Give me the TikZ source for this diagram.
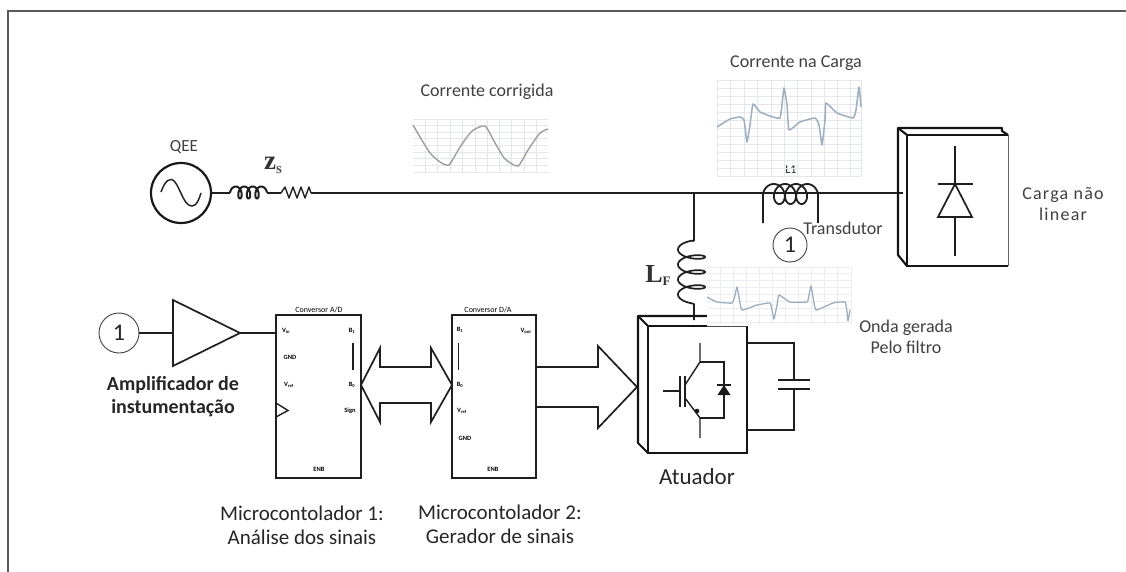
\documentclass[tikz,border=0pt]{standalone}
\usepackage{fontspec}
\setmainfont{Carlito}
\newfontfamily\serifbold{Liberation Serif}[BoldFont={Liberation Serif Bold}]
\usetikzlibrary{calc}
\definecolor{lab}{HTML}{404040}
\definecolor{gridc}{HTML}{E3E6EA}
\definecolor{wavec}{HTML}{9DAEBF}
\newcommand{\fsz}[1]{\fontsize{#1}{#1}\selectfont}
\tikzset{
  x=1pt,y=-1pt,
  wire/.style={draw=black!88,line width=1.7pt},
  thick wire/.style={draw=black!92,line width=2.1pt},
  thin wire/.style={draw=black!85,line width=1.3pt},
  mark circle/.style={circle,draw=black!75,line width=0.9pt,minimum size=#1,inner sep=0pt,font=\fsz{24},text=black!85},
  block/.style={rectangle,draw=black!88,line width=1.6pt,inner sep=0pt,fill=white},
  toplabel/.style={inner sep=0pt,text=lab,font=\fsz{18},align=center},
  caption/.style={inner sep=0pt,text=black!85,font=\fsz{21},align=center},
  boldcap/.style={inner sep=0pt,text=black!85,font=\fsz{20}\bfseries,align=center},
  tiny label/.style={inner sep=0pt,text=black,font=\fsz{6.5}\bfseries},
  title label/.style={inner sep=0pt,text=black,font=\fsz{8}},
  gridline/.style={draw=gridc,line width=0.7pt},
  wave/.style={draw=wavec,line width=1.5pt,line join=round},
}
\begin{document}
\begin{tikzpicture}
\useasboundingbox (0,0) rectangle (1126,572);
\fill[white] (0,0) rectangle (1126,572);
% frame
\coordinate (fa) at (8,572); \coordinate (fb) at (8,11); \coordinate (fc) at (1126,11);
\draw[draw=black!65,line width=1.1pt] (fa) -- (fb) -- (fc);

% source
\node[circle,draw=black!90,line width=2.2pt,minimum size=60pt,inner sep=0pt] (src) at (181,193) {};
\draw[thin wire,line width=1.5pt] (161,192) .. controls (165,181) and (170,176) .. (175,182) .. controls (181,190) and (184,206) .. (192,206) .. controls (197,206) and (199,199) .. (201,193);
\node[toplabel,font=\fsz{17}] (qee) at (184,147) {QEE};
\node[inner sep=0pt,font=\serifbold\fsz{27}\bfseries,text=black!80] (zs) at (273,165) {z\raisebox{-4pt}{\fsz{15}\textcolor{black!65}{s}}};

% main line junction coordinates
\coordinate (zin) at (230,193);
\coordinate (zout) at (267,193);
\coordinate (rin) at (281,193);
\coordinate (rout) at (311,193);
\coordinate (jn) at (694,193);
\coordinate (l1a) at (763,193);
\coordinate (l1b) at (818,193);
\coordinate (ldin) at (903,193);

\draw[wire] (src.east) -- (zin);
\draw[wire,line width=2pt] (zin) -- plot[variable=\t,domain=0:1260,samples=180] ({230+3.6+\t/1260*29.8-3.6*cos(\t)},{192.5-6*sin(\t)});
\draw[wire] (zout) -- (rin);
\draw[wire,line width=1.4pt,line join=round] (rin) -- (285,187) -- (289,198) -- (293,187) -- (297,198) -- (301,187) -- (305,198) -- (309,187) -- (rout);
\draw[wire] (rout) -- (ldin);

% L1
\node[inner sep=0pt,font=\fsz{12},text=black!85] (l1t) at (791,170) {L1};
\coordinate (l1la) at (763,223);
\coordinate (l1lb) at (818,223);
\draw[wire,line width=1.8pt,line join=round] (l1la) -- (763,194) -- plot[variable=\t,domain=0:1260,samples=200] ({771+\t/1260*39-8*cos(\t)},{194-10*sin(\t)}) -- (l1lb);
\node[mark circle=34pt] (c1a) at (790,245) {1};
\node[toplabel] (tr) at (843,228) {Transdutor};

% load
\coordinate (lda) at (898,128); \coordinate (ldb) at (1002,128); \coordinate (ldc) at (898,255);
\coordinate (lde) at (907,135); \coordinate (ldf) at (1008,135); \coordinate (ldg) at (907,266); \coordinate (ldh) at (1008,266);
\draw[thick wire,line join=round] (ldg) -- (ldc) -- (lda) -- (ldb) -- (1002,131) -- (ldf);
\draw[thick wire] (lda) -- (lde);
\draw[thick wire] (lde) -- (ldf);
\draw[thick wire] (lde) -- (ldg) -- (ldh);
\draw[draw=black!60,line width=1pt] (ldf) -- (ldh);
% diode of load
\coordinate (da) at (955,146); \coordinate (db) at (955,184); \coordinate (dc) at (955,217); \coordinate (dd) at (955,256);
\draw[wire] (da) -- (db);
\draw[wire] (938,184) -- (973,184);
\draw[wire,line join=miter] (db) -- (972,217) -- (938,217) -- cycle;
\draw[wire] (dc) -- (dd);
\node[toplabel,font=\fsz{18}\addfontfeature{LetterSpace=7}] (cnl) at (1063,204) {Carga não\\[3pt]linear};

% branch inductor
\coordinate (lfa) at (694,241);
\coordinate (lfb) at (694,320);
\draw[wire] (jn) -- (lfa);
\draw[wire,line join=round] (lfa) -- plot[variable=\t,domain=90:1350,samples=220] ({691.5+13.5*cos(\t)},{242+\t/360*15-5*sin(\t)}) -- (694,304) -- (lfb);
\node[inner sep=0pt,font=\serifbold\fsz{26}\bfseries,text=black!80] (lf) at (658,275) {L\raisebox{-3pt}{\fsz{13}F}};

% chart 1
\foreach \x in {425,437.5,450,462,475,487,499,511,524,536} \draw[gridline] (\x,119) -- (\x,172);
\foreach \y in {119,125,132,138,145,152,158,165,172} \draw[gridline] (413,\y) -- (548,\y);
\draw[wave,draw=black!38,line width=1.4pt] plot[smooth,tension=0.35] coordinates {(413,125) (420,137) (430,153) (440,162) (449,165) (460,147) (472,131) (485,126) (495,143) (505,159) (518,166) (528,150) (540,133) (548,129)};
\node[toplabel] (cc) at (487,92) {Corrente corrigida};

% chart 2
\foreach \x in {717,730.5,744,757,771,784,797,811,824,837,850,861} \draw[gridline] (\x,80) -- (\x,176);
\foreach \y in {80,88,96,104,112,120,128,136,144,152,160,168,176} \draw[gridline] (717,\y) -- (861,\y);
\draw[wave] plot[smooth,tension=0.25] coordinates {(717,127) (730,119) (740,117) (744,120) (747,142) (750,125) (753,104) (760,112) (773,117) (780,118) (782,105) (784,88) (787,105) (789,130) (800,122) (815,118) (819,125) (822,145) (825,120) (826,103) (837,113) (853,118) (856,110) (859,87) (861,107)};
\node[toplabel] (cl) at (796,63) {Corrente na Carga};

% actuator
\coordinate (aa) at (638,316); \coordinate (ab) at (707,316); \coordinate (ac) at (638,443);
\coordinate (ad) at (648,326); \coordinate (ae) at (707,326); \coordinate (af) at (747,326);
\coordinate (ag) at (648,453); \coordinate (ah) at (747,453);
\draw[thick wire,line join=round] (ag) -- (ac) -- (aa) -- (ab);
\draw[thick wire] (aa) -- (ad);
\draw[thick wire] (ae) -- (ad) -- (ag) -- (ah) -- (af);
\draw[draw=black!70,line width=0.9pt] (ae) -- (af);

% chart 3
\fill[white] (707,267) rectangle (851,325);
\foreach \x in {720,733,746,759,772,785,798,811,824,837,851} \draw[gridline,draw=gridc!70] (\x,267) -- (\x,325);
\foreach \y in {267,273,280,287,294,301,308,315,322} \draw[gridline,draw=gridc!70] (707,\y) -- (851,\y);
\draw[wave,line width=1.3pt] plot[smooth,tension=0.25] coordinates {(707,297) (717,302) (732,303) (735,295) (737,287) (739,297) (742,310) (757,305) (770,303) (772,310) (774,319) (777,305) (779,295) (790,302) (807,302) (809,295) (811,286) (813,297) (816,310) (833,303) (845,302) (847,312) (848,321) (850,310)};

% IGBT
\coordinate (ga) at (663,391); \coordinate (gb) at (679,391);
\coordinate (ca) at (700,343); \coordinate (cb) at (700,362);
\coordinate (ea) at (700,418); \coordinate (eb) at (700,438);
\coordinate (ba) at (685,385); \coordinate (bb) at (685,398);
\coordinate (fda) at (724,362); \coordinate (fdb) at (724,418);
\draw[wire,line width=1.4pt] (ga) -- (gb);
\draw[wire,line width=2pt] (680,376) -- (680,407);
\draw[wire,line width=2pt] (685,376) -- (685,407);
\draw[wire,line width=1.4pt] (ba) -- (cb) -- (ca);
\draw[wire,line width=1.4pt] (bb) -- (ea) -- (eb);
\fill[black!90] (697,411) circle (2.3pt);
\draw[wire,line width=1.4pt] (cb) -- (fda) -- (fdb) -- (ea);
\fill[black!90] (724,385) -- (730.5,395) -- (717.5,395) -- cycle;
\draw[wire,line width=1.4pt] (717,385) -- (731,385);

% capacitor
\coordinate (capa) at (747,343); \coordinate (capb) at (794,343); \coordinate (capc) at (794,380);
\coordinate (capd) at (794,389); \coordinate (cape) at (794,430); \coordinate (capf) at (747,430);
\draw[wire,line join=miter] (capa) -- (capb) -- (capc);
\draw[wire] (778,380) -- (810,380);
\draw[wire] (778,389) -- (810,389);
\draw[wire,line join=miter] (capd) -- (cape) -- (capf);
\node[caption,font=\fsz{23}] (atu) at (697,477) {Atuador};
\node[toplabel] (og) at (906,336.5) {Onda gerada\\[3pt]Pelo filtro};

% amplifier chain
\node[mark circle=40pt] (c1b) at (119,333) {1};
\coordinate (ampa) at (173,300); \coordinate (ampb) at (173,366); \coordinate (ampc) at (240,333); \coordinate (ampi) at (173,333);
\draw[wire,line join=miter] (ampa) -- (ampb) -- (ampc) -- cycle;
\draw[wire] (c1b.east) -- (ampi);
\node[boldcap] (ampt) at (173,396.5) {Amplificador de\\[3pt]instumentação};

% A/D block
\node[block,minimum width=85pt,minimum height=163pt] (adc) at (318.5,396.5) {};
\coordinate (adcin) at (276,333);
\draw[wire] (ampc) -- (adcin);
\node[title label] (adt) at (319,310) {Conversor A/D};
\node[tiny label] (a1) at (286,331) {V\textsubscript{in}};
\node[tiny label] (a2) at (352,331) {B\textsubscript{1}};
\node[tiny label] (a3) at (290,357) {GND};
\node[tiny label] (a4) at (289,385) {V\textsubscript{ref}};
\node[tiny label] (a5) at (352,385) {B\textsubscript{0}};
\node[tiny label] (a6) at (350,411) {Sign};
\node[tiny label] (a7) at (319,469) {ENB};
\coordinate (abara) at (353,343); \coordinate (abarb) at (353,370);
\draw[wire] (abara) -- (abarb);
\coordinate (cka) at (276,403); \coordinate (ckb) at (288,410.5); \coordinate (ckc) at (276,417);
\draw[wire,line width=1.4pt,line join=miter] (cka) -- (ckb) -- (ckc);

% D/A block
\node[block,minimum width=84pt,minimum height=163pt] (dac) at (494,396.5) {};
\node[title label] (dat) at (488,310) {Conversor D/A};
\node[tiny label] (d1) at (460,330) {B\textsubscript{1}};
\node[tiny label] (d2) at (526,331) {V\textsubscript{out}};
\node[tiny label] (d3) at (460,385) {B\textsubscript{0}};
\node[tiny label] (d4) at (462,411) {V\textsubscript{ref}};
\node[tiny label] (d5) at (465,438) {GND};
\node[tiny label] (d6) at (493,469) {ENB};
\coordinate (dbara) at (458.5,343); \coordinate (dbarb) at (458.5,370);
\draw[wire] (dbara) -- (dbarb);

% double arrow
\coordinate (tipl) at (361,385); \coordinate (tipr) at (452,385);
\draw[wire,line join=miter] (tipl) -- (380,348) -- (380,367) -- (431,367) -- (431,348) -- (tipr) -- (431,422) -- (431,403) -- (380,403) -- (380,422) -- cycle;

% big arrow
\coordinate (bga) at (536,367); \coordinate (bgb) at (536,407); \coordinate (bgt) at (637,387);
\draw[wire,line join=miter] (bga) -- (598,367) -- (598,346) -- (bgt) -- (598,428) -- (598,407) -- (bgb);

% captions
\node[caption] (m1) at (302,525) {Microcontolador 1:\\[3pt]Análise dos sinais};
\node[caption] (m2) at (500,524) {Microcontolador 2:\\[3pt]Gerador de sinais};
\end{tikzpicture}
\end{document}
